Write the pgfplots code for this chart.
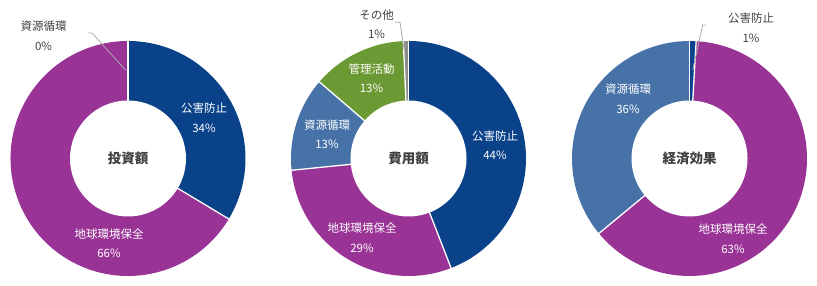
\documentclass[border=0pt]{standalone}
\usepackage{pgfplots}
\usepackage{pgfplotstable}
\pgfplotsset{compat=1.18}
\usepackage{fontspec}
\setmainfont{Noto Sans CJK JP}

\definecolor{cBlue}{RGB}{10,66,138}
\definecolor{cPurple}{RGB}{153,51,150}
\definecolor{cSteel}{RGB}{70,114,168}
\definecolor{cGreen}{RGB}{107,153,51}
\definecolor{cGray}{RGB}{140,140,140}
\definecolor{cText}{RGB}{64,64,64}
\definecolor{cLeader}{RGB}{170,170,170}

% value pct color lx ly tcol name
\pgfplotstableread{
value pct color lx ly tcol name
33.6 34 cBlue 204 168.5 white 公害防止
66.4 66 cPurple 109 43 white 地球環境保全
0.0 0 cSteel 43.5 250 cText 資源循環
}\tblA

\pgfplotstableread{
value pct color lx ly tcol name
44.1 44 cBlue 495 141 white 公害防止
29.3 29 cPurple 362 48.5 white 地球環境保全
12.9 13 cSteel 327 152 white 資源循環
13.0 13 cGreen 371.5 208 white 管理活動
0.7 1 cGray 376.5 261.5 cText その他
}\tblB

\pgfplotstableread{
value pct color lx ly tcol name
0.9 1 cBlue 751 258.5 cText 公害防止
63.1 63 cPurple 733 47.5 white 地球環境保全
36.0 36 cSteel 628 187 white 資源循環
}\tblC

\newcount\dnI
% builds drawing commands (with all numbers expanded) into #4
\newcommand{\prepdonut}[4]{% table, cx, cy, output macro
  \def\dnCum{0}%
  \def\dnFill{}\def\dnSep{}\def\dnLab{}%
  \pgfplotstablegetrowsof{#1}%
  \edef\dnN{\pgfplotsretval}%
  \dnI=0\relax
  \loop\ifnum\dnI<\dnN\relax
    \pgfplotstablegetelem{\the\dnI}{value}\of{#1}\edef\dnVal{\pgfplotsretval}%
    \pgfplotstablegetelem{\the\dnI}{color}\of{#1}\edef\dnCol{\pgfplotsretval}%
    \pgfplotstablegetelem{\the\dnI}{pct}\of{#1}\edef\dnPc{\pgfplotsretval}%
    \pgfplotstablegetelem{\the\dnI}{lx}\of{#1}\edef\dnLx{\pgfplotsretval}%
    \pgfplotstablegetelem{\the\dnI}{ly}\of{#1}\edef\dnLy{\pgfplotsretval}%
    \pgfplotstablegetelem{\the\dnI}{tcol}\of{#1}\edef\dnTc{\pgfplotsretval}%
    \pgfplotstablegetelem{\the\dnI}{name}\of{#1}\edef\dnNm{\pgfplotsretval}%
    \pgfmathparse{90-3.6*\dnCum}\edef\dnSA{\pgfmathresult}%
    \pgfmathparse{\dnCum+\dnVal}\edef\dnCum{\pgfmathresult}%
    \pgfmathparse{90-3.6*\dnCum}\edef\dnEA{\pgfmathresult}%
    \edef\dnFill{\unexpanded\expandafter{\dnFill}\noexpand\fill[\dnCol, overlay] (axis cs:#2,#3) -- ++(\dnSA:117.5pt) arc[start angle=\dnSA, end angle=\dnEA, radius=117.5pt] -- cycle;}%
    \edef\dnSep{\unexpanded\expandafter{\dnSep}\noexpand\draw[white, line width=1.3pt, overlay] (axis cs:#2,#3) -- ++(\dnSA:118.5pt);}%
    \edef\dnLab{\unexpanded\expandafter{\dnLab}\noexpand\node[align=center, text=\dnTc, font=\noexpand\fontsize{11.5}{19.5}\noexpand\selectfont, inner sep=0pt] at (axis cs:\dnLx,\dnLy) {\dnNm\noexpand\\\dnPc\noexpand\%};}%
    \advance\dnI by 1\relax
  \repeat
  \xdef#4{\unexpanded\expandafter{\dnFill}\unexpanded\expandafter{\dnSep}\noexpand\fill[white, overlay] (axis cs:#2,#3) circle[radius=58pt];\unexpanded\expandafter{\dnLab}}%
}
\prepdonut{\tblA}{128}{127.5}{\donutA}
\prepdonut{\tblB}{408.5}{127.5}{\donutB}
\prepdonut{\tblC}{689.5}{127.5}{\donutC}

\begin{document}
\begin{tikzpicture}
\begin{axis}[x=1pt, y=1pt, xmin=0, xmax=817, ymin=0, ymax=286,
  hide axis, clip=false, scale only axis]
\path (axis cs:0,0) rectangle (axis cs:817,286);
\donutA
\donutB
\donutC
\node[font=\fontsize{13.5}{16}\selectfont\bfseries, text=cText] at (axis cs:128,127.5) {投資額};
\node[font=\fontsize{13.5}{16}\selectfont\bfseries, text=cText] at (axis cs:408.5,127.5) {費用額};
\node[font=\fontsize{13.5}{16}\selectfont\bfseries, text=cText] at (axis cs:689.5,127.5) {経済効果};
% leader lines
\draw[cLeader, line width=0.8pt] (axis cs:88,253) -- (axis cs:92,253) -- (axis cs:125.5,216);
\draw[cLeader, line width=0.8pt] (axis cs:395,263.7) -- (axis cs:400,263.7) -- (axis cs:404,237);
\draw[cLeader, line width=0.8pt] (axis cs:706,261) -- (axis cs:702.7,261) -- (axis cs:692.7,216);
\end{axis}
\end{tikzpicture}
\end{document}
